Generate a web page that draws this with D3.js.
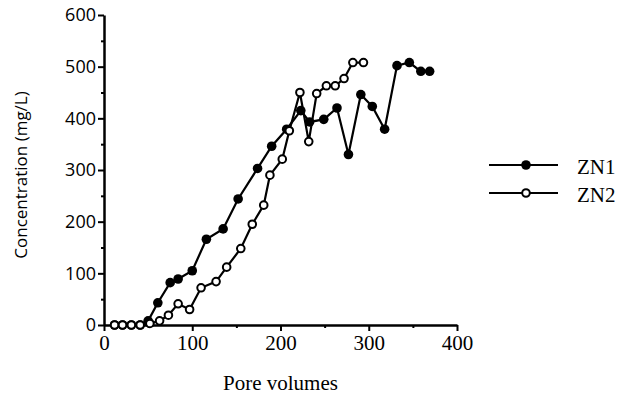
<!DOCTYPE html>
<html>
<head>
<meta charset="utf-8">
<script src="https://cdn.jsdelivr.net/npm/d3@7"></script>
<style>
  body { margin: 0; background: #fff; }
  svg { display: block; }
</style>
</head>
<body>
<div id="chart"></div>
<script>
// pore volumes / concentration
const zn1X = [12, 21, 31, 41, 50, 61, 75, 84, 100, 116, 135, 152, 174, 190, 207, 223, 233, 249, 264, 277, 291, 304, 318, 332, 346, 359, 369];
const zn1Y = [0, 0, 0, 0, 8, 43, 82, 89, 105, 166, 186, 244, 303, 346, 379, 415, 393, 398, 420, 330, 446, 423, 379, 502, 508, 491, 491];
const zn2X = [12, 21, 31, 41, 52, 63, 73, 84, 97, 110, 127, 139, 155, 168, 181, 188, 202, 210, 222, 232, 241, 252, 262, 272, 282, 294];
const zn2Y = [0, 0, 0, 0, 3, 8, 19, 41, 30, 72, 84, 112, 148, 195, 232, 290, 321, 376, 450, 355, 448, 463, 463, 477, 508, 508];

const xTicks = [0, 100, 200, 300, 400];
const xMinor = [50, 150, 250, 350];
const yTicks = [0, 100, 200, 300, 400, 500, 600];
const yMinor = [50, 150, 250, 350, 450, 550];
const seriesNames = ["ZN1", "ZN2"];

const width = 620;
const height = 394;
const margin = { top: 15, right: 163, bottom: 69, left: 104 };

const zn1 = zn1X.map((v, i) => ({ x: v, y: zn1Y[i] }));
const zn2 = zn2X.map((v, i) => ({ x: v, y: zn2Y[i] }));

const x = d3.scaleLinear()
    .domain([0, 400])
    .range([margin.left, width - margin.right]);

const y = d3.scaleLinear()
    .domain([0, 600])
    .range([height - margin.bottom, margin.top]);

const svg = d3.select("#chart")
    .append("svg")
    .attr("width", width)
    .attr("height", height)
    .attr("viewBox", [0, 0, width, height]);

const serif = "'Liberation Serif', 'Times New Roman', serif";
const sans = "'Open Sans', 'DejaVu Sans', sans-serif";

// x axis
const xAxis = svg.append("g")
    .attr("transform", `translate(0, ${y(0)})`)
    .call(d3.axisBottom(x).tickValues(xTicks).tickSize(6).tickSizeOuter(0).tickPadding(4));
xAxis.select(".domain").attr("stroke-width", 2.5);
xAxis.selectAll(".tick line").attr("stroke-width", 2);
xAxis.selectAll("text")
    .attr("font-family", serif)
    .attr("font-size", 21)
    .attr("fill", "#000");

svg.append("g")
    .attr("transform", `translate(0, ${y(0)})`)
    .call(d3.axisBottom(x).tickValues(xMinor).tickSize(3).tickFormat(""))
    .call(g => g.select(".domain").remove())
    .selectAll(".tick line").attr("stroke-width", 2);

// y axis
const yAxis = svg.append("g")
    .attr("transform", `translate(${x(0)}, 0)`)
    .call(d3.axisLeft(y).tickValues(yTicks).tickSize(6).tickSizeOuter(0).tickPadding(2));
yAxis.select(".domain").attr("stroke-width", 2.5);
yAxis.selectAll(".tick line").attr("stroke-width", 2);
yAxis.selectAll("text")
    .attr("font-family", sans)
    .attr("font-size", 18)
    .attr("fill", "#000");

svg.append("g")
    .attr("transform", `translate(${x(0)}, 0)`)
    .call(d3.axisLeft(y).tickValues(yMinor).tickSize(3).tickFormat(""))
    .call(g => g.select(".domain").remove())
    .selectAll(".tick line").attr("stroke-width", 2);

// axis titles
svg.append("text")
    .attr("x", (x(0) + x(400)) / 2)
    .attr("y", 390)
    .attr("text-anchor", "middle")
    .attr("font-family", serif)
    .attr("font-size", 21)
    .text("Pore volumes");

svg.append("text")
    .attr("transform", `translate(27, ${y(300) + 5}) rotate(-90)`)
    .attr("text-anchor", "middle")
    .attr("font-family", sans)
    .attr("font-size", 17)
    .text("Concentration (mg/L)");

// lines
const line = d3.line().x(d => x(d.x)).y(d => y(d.y));

svg.append("path")
    .datum(zn1)
    .attr("d", line)
    .attr("fill", "none")
    .attr("stroke", "#000")
    .attr("stroke-width", 2.2);

svg.append("path")
    .datum(zn2)
    .attr("d", line)
    .attr("fill", "none")
    .attr("stroke", "#000")
    .attr("stroke-width", 2.2);

// markers
svg.append("g")
    .selectAll("circle")
    .data(zn1)
    .join("circle")
        .attr("cx", d => x(d.x))
        .attr("cy", d => y(d.y))
        .attr("r", 4.8)
        .attr("fill", "#000");

svg.append("g")
    .selectAll("circle")
    .data(zn2)
    .join("circle")
        .attr("cx", d => x(d.x))
        .attr("cy", d => y(d.y))
        .attr("r", 3.8)
        .attr("fill", "#fff")
        .attr("stroke", "#000")
        .attr("stroke-width", 2);

// legend
const legend = svg.append("g");
const legendY = [165, 193];
seriesNames.forEach((name, i) => {
    legend.append("line")
        .attr("x1", 489).attr("x2", 558)
        .attr("y1", legendY[i]).attr("y2", legendY[i])
        .attr("stroke", "#000")
        .attr("stroke-width", 2.2);
    legend.append("circle")
        .attr("cx", 526)
        .attr("cy", legendY[i])
        .attr("r", i === 0 ? 4.8 : 3.8)
        .attr("fill", i === 0 ? "#000" : "#fff")
        .attr("stroke", "#000")
        .attr("stroke-width", i === 0 ? 0 : 2);
    legend.append("text")
        .attr("x", 577)
        .attr("y", legendY[i] + 9)
        .attr("font-family", serif)
        .attr("font-size", 21)
        .text(name);
});
</script>
</body>
</html>
